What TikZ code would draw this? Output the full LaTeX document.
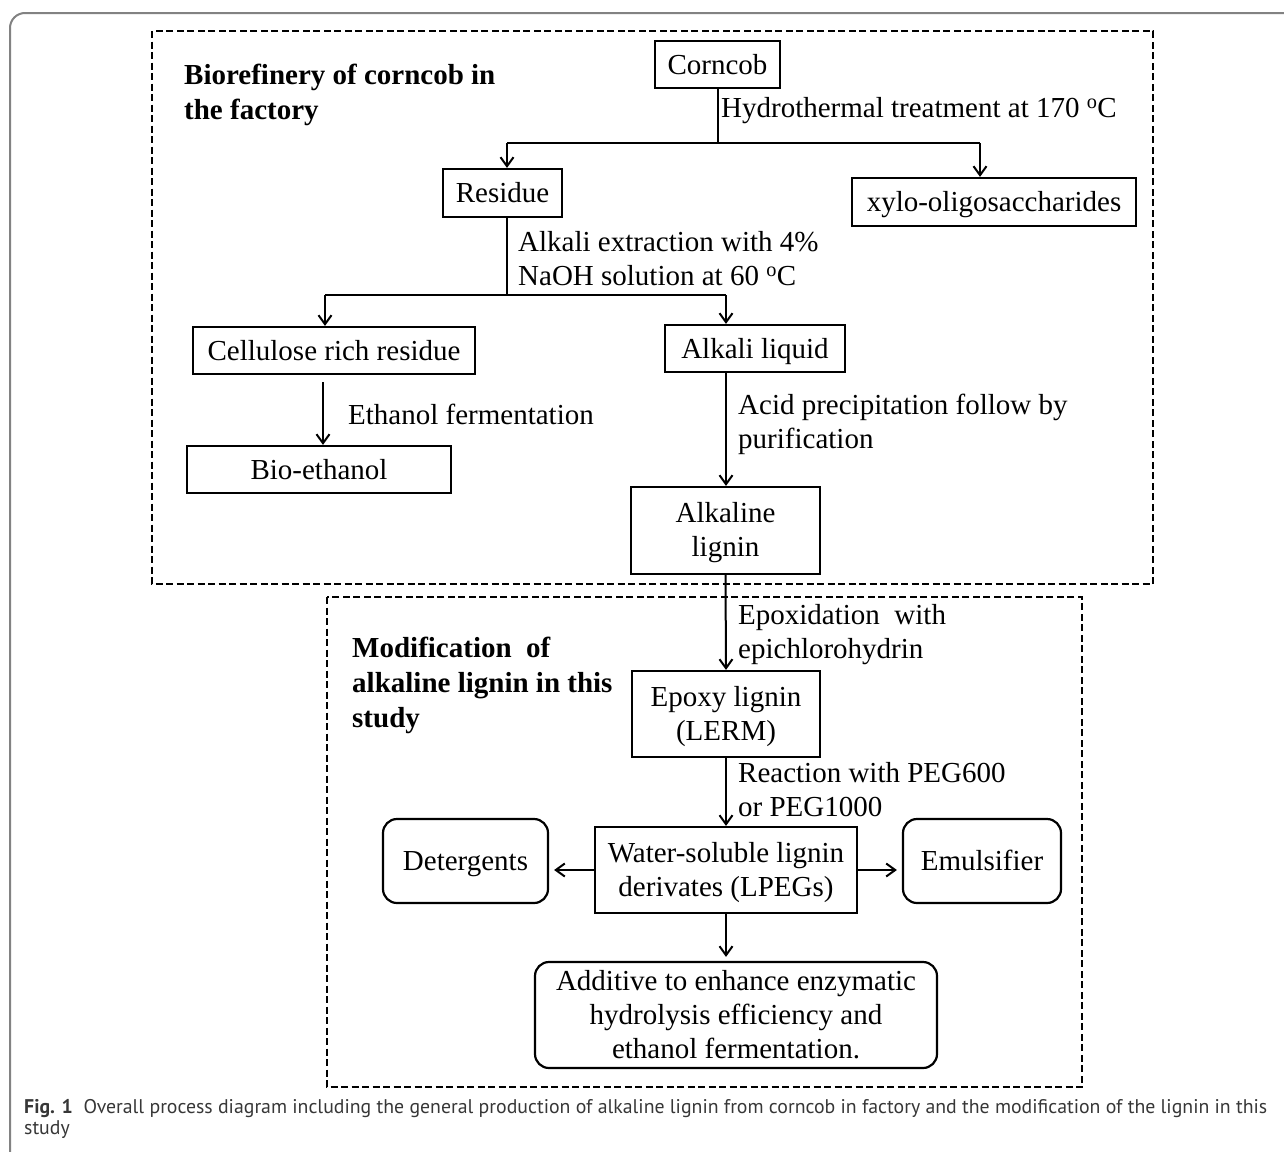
\documentclass[tikz,border=0pt]{standalone}
\usepackage{fontspec}
\setmainfont{Liberation Serif}
\newfontfamily\capfont{PT Sans}
\usetikzlibrary{arrows.meta}
\definecolor{framegray}{RGB}{130,130,130}
\definecolor{captext}{RGB}{55,55,55}
\begin{document}
\begin{tikzpicture}[x=1pt,y=-1pt,
  box/.style={draw, line width=2.2pt, inner sep=0pt, align=center,
    text depth=2pt, font=\fontsize{29}{34}\selectfont},
  onel/.style={text height=21pt},
  rbox/.style={box, rounded corners=14pt},
  lbl/.style={anchor=west, inner sep=0pt, align=left,
    font=\fontsize{29}{34}\selectfont},
  ttl/.style={anchor=west, inner sep=0pt, align=left,
    font=\fontsize{29}{35}\selectfont\bfseries},
  dbox/.style={draw, dash pattern=on 7pt off 3.5pt, line width=2pt},
  ln/.style={line width=2pt},
  arr/.style={line width=2pt, -{Straight Barb[length=9pt,width=13pt,line width=2pt]}},
  frame/.style={draw=framegray, line width=2pt, rounded corners=15pt}
]
\useasboundingbox (0,0) rectangle (1284,1151);
% outer frame
\coordinate (fa) at (10,1160);
\coordinate (fb) at (10,13);
\coordinate (fc) at (1295,13);
\draw[frame] (fa) -- (fb) -- (fc);
% dashed groups
\coordinate (d1a) at (152,31);
\coordinate (d1b) at (1153,584);
\coordinate (d2a) at (327,597);
\coordinate (d2b) at (1082,1087);
\draw[dbox] (d1a) rectangle (d1b);
\draw[dbox] (d2a) rectangle (d2b);
% titles
\node[ttl] (t1) at (184,94.5) {Biorefinery of corncob in\\the factory};
\node[ttl] (t2) at (352,685) {Modification\ \ of\\alkaline lignin in this\\study};
% boxes
\node[box, onel, minimum width=125, minimum height=47] (corncob) at (717.5,64.5) {Corncob};
\node[box, onel, minimum width=119, minimum height=48] (residue) at (502.5,193) {Residue};
\node[box, onel, minimum width=284, minimum height=48] (xylo) at (994,202) {xylo-oligosaccharides};
\node[box, onel, minimum width=282, minimum height=47] (cellulose) at (334,350.5) {Cellulose rich residue};
\node[box, onel, minimum width=180, minimum height=47] (alkliq) at (755,348.5) {Alkali liquid};
\node[box, onel, minimum width=264, minimum height=47] (bioeth) at (319,469.5) {Bio-ethanol};
\node[box, minimum width=189, minimum height=87] (alklig) at (725.5,530.5) {Alkaline\\lignin};
\node[box, minimum width=188, minimum height=86] (epoxy) at (726,714) {Epoxy lignin\\(LERM)};
\node[box, minimum width=262, minimum height=86] (lpeg) at (726,870) {Water-soluble lignin\\derivates (LPEGs)};
\node[rbox, onel, minimum width=165, minimum height=84] (deterg) at (465.5,861) {Detergents};
\node[rbox, onel, minimum width=158, minimum height=84] (emuls) at (982,861) {Emulsifier};
\node[rbox, minimum width=402, minimum height=106] (additive) at (736,1015) {Additive to enhance enzymatic\\hydrolysis efficiency and\\ethanol fermentation.};
% labels
\node[lbl] (l1) at (721,111) {Hydrothermal treatment at 170 \textsuperscript{o}C};
\node[lbl] (l2) at (518,259) {Alkali extraction with 4\%\\NaOH solution at 60 \textsuperscript{o}C};
\node[lbl] (l3) at (348,414) {Ethanol fermentation};
\node[lbl] (l4) at (738,424) {Acid precipitation follow by\\purification};
\node[lbl] (l5) at (738,635) {Epoxidation\ \ with\\epichlorohydrin};
\node[lbl] (l6) at (738,790) {Reaction with PEG600\\or PEG1000};
% connectors
\coordinate (hL) at (507,143);
\coordinate (hR) at (980,143);
\draw[ln] (corncob.south) -- (corncob.south |- hL);
\draw[ln] (hL) -- (hR);
\draw[arr] (hL) -- (hL |- residue.north);
\draw[arr] (hR) -- (hR |- xylo.north);
\coordinate (gL) at (325,295);
\coordinate (gR) at (726,295);
\draw[ln] (residue.south -| hL) -- (hL |- gL);
\draw[ln] (gL) -- (gR);
\draw[arr] (gL) -- (gL |- cellulose.north);
\draw[arr] (gR) -- (gR |- alkliq.north);
\coordinate (ce) at (323,382);
\draw[arr] (ce) -- (ce |- bioeth.north);
\draw[arr] (alkliq.south -| gR) -- (gR |- alklig.north);
\draw[arr] (alklig.south) -- (epoxy.north);
\draw[arr] (epoxy.south) -- (lpeg.north);
\draw[arr, shorten >=5pt] (lpeg.west) -- (deterg.east |- lpeg.west);
\draw[arr, shorten >=5pt] (lpeg.east) -- (emuls.west |- lpeg.east);
\draw[arr, shorten >=4pt] (lpeg.south) -- (lpeg.south |- additive.north);
% caption
\node[anchor=west, inner sep=0pt, align=left, text=captext,
  font=\capfont\fontsize{19.8}{21}\selectfont] (cap) at (24,1118.5)
  {{\bfseries Fig. 1}\ \ Overall process diagram including the general production of alkaline lignin from corncob in factory and the modification of the lignin in this\\study};
\end{tikzpicture}
\end{document}
